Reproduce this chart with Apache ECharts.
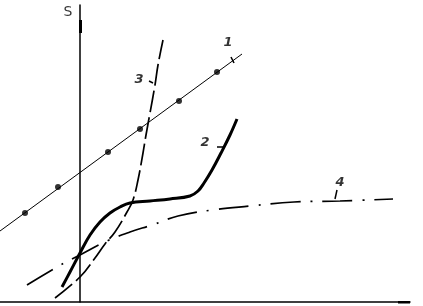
<!DOCTYPE html>
<html><head><meta charset="utf-8">
<script src="https://cdn.jsdelivr.net/npm/echarts@6/dist/echarts.min.js"></script>
<style>html,body{margin:0;padding:0;background:#fff}#c{width:423px;height:306px}</style>
</head><body><div id="c"></div>
<script>
// Curve 1: straight line with measured points
const curve1Points = [[-55,89],[-22,115],[28,150],[60,173],[99,201],[137,230]];
const curve1Line = [[-80,71],[162,248]];
// Curve 2: thick solid
const curve2 = [[-18,15],[-10,30],[0,49],[10,67],[20,80],[30,89],[40,95],[50,99],[70,101],[90,103],[110,106],[118,111],[124,119],[132,132],[141,149],[150,167],[157,183]];
// Curve 3: dashed, steep
const curve3 = [[-25,4],[0,25],[15,44],[25,58],[35,70],[47,90],[53,102],[58,122],[63,149],[66,167],[70,189],[75,217],[78,237],[83,262]];
// Curve 4: dash-dot, saturating
const curve4 = [[-53,17],[-23,35],[0,47],[27,61],[50,70],[72,77],[98,86],[132,92],[170,96],[214,100],[260,101],[313,103]];
// Curve labels and their short leader strokes
const curveLabels = [[148,259,'1'],[125,159,'2'],[59,222,'3'],[260,119,'4']];
const leaders = [[[151,245],[154,239]],[[137,155],[143,155]],[[257,112],[255,103]],[[69,221],[73,219]]];
const axisName = 'S';
const axisMarks = [[[0,269],[0,282]],[[318,0],[330,0]]];

const chart = echarts.init(document.getElementById('c'), null, {renderer:'canvas'});
const black = '#000';
chart.setOption({
  backgroundColor:'#fff',
  animation:false,
  grid:{left:0,right:13,top:5,bottom:4},
  xAxis:{type:'value',min:-80,max:330,
    axisLine:{onZero:true,lineStyle:{color:black,width:1.5}},
    axisTick:{show:false},axisLabel:{show:false},splitLine:{show:false}},
  yAxis:{type:'value',min:0,max:297,
    axisLine:{onZero:true,lineStyle:{color:black,width:1.5}},
    axisTick:{show:false},axisLabel:{show:false},splitLine:{show:false}},
  series:[
    {type:'line',data:curve1Line,symbol:'none',lineStyle:{color:black,width:1}},
    {type:'scatter',data:curve1Points,symbol:'circle',symbolSize:6,itemStyle:{color:black}},
    {type:'line',data:curve2,smooth:0.4,symbol:'none',lineStyle:{color:black,width:3}},
    {type:'line',data:curve3,smooth:0.4,symbol:'none',lineStyle:{color:black,width:1.7,type:[22,5]}},
    {type:'line',data:curve4,smooth:0.4,symbol:'none',lineStyle:{color:black,width:1.7,type:[30,10,2,10]}},
    {type:'lines',coordinateSystem:'cartesian2d',data:leaders.map(s=>({coords:s})),lineStyle:{color:black,width:1.5,opacity:1}},
    {type:'lines',coordinateSystem:'cartesian2d',data:axisMarks.map(s=>({coords:s})),lineStyle:{color:black,width:3,opacity:1}},
    {type:'scatter',symbolSize:0,
      data:curveLabels.map(d=>({value:[d[0],d[1]],name:d[2]})),
      label:{show:true,position:'inside',formatter:p=>p.name,color:black,fontSize:13,fontStyle:'italic',fontWeight:'bold',fontFamily:'DejaVu Sans'}},
    {type:'scatter',symbolSize:0,
      data:[{value:[-12,290],name:axisName}],
      label:{show:true,position:'inside',formatter:p=>p.name,color:black,fontSize:14,fontFamily:'DejaVu Sans'}}
  ]
});
</script></body></html>
